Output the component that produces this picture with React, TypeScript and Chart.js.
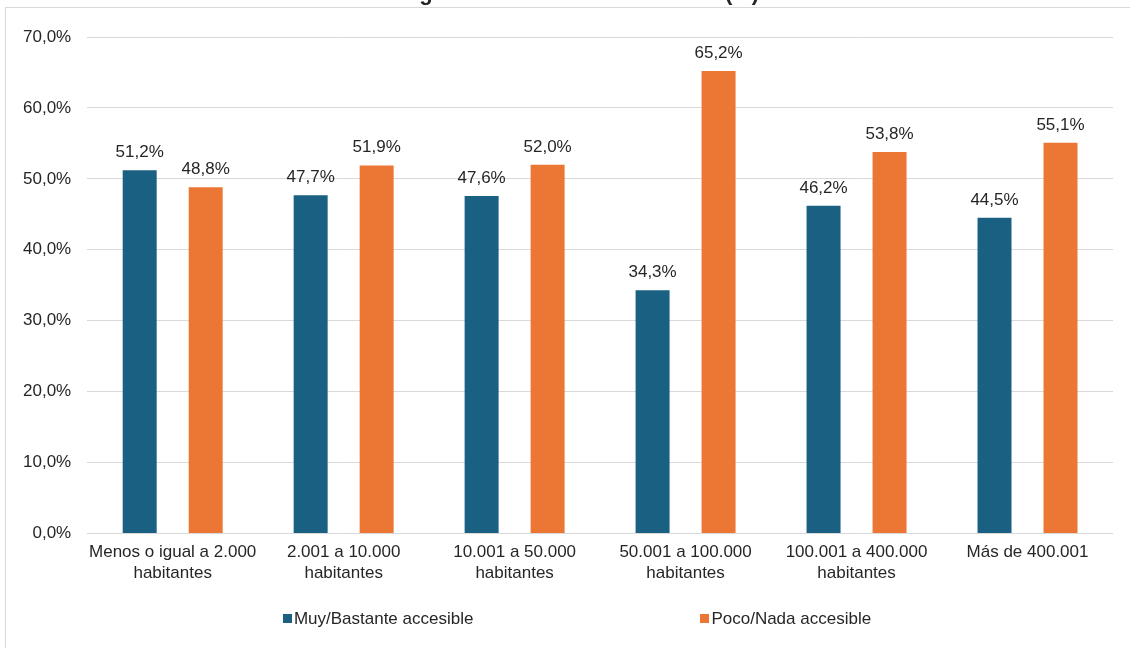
import React, { useEffect, useRef } from "react";
import { Chart, registerables } from "chart.js";

Chart.register(...registerables);

const categories: string[][] = [
  ["Menos o igual a 2.000", "habitantes"],
  ["2.001 a 10.000", "habitantes"],
  ["10.001 a 50.000", "habitantes"],
  ["50.001 a 100.000", "habitantes"],
  ["100.001 a 400.000", "habitantes"],
  ["Más de 400.001"],
];
const seriesNames = ["Muy/Bastante accesible", "Poco/Nada accesible"];
const muyBastante = [51.2, 47.7, 47.6, 34.3, 46.2, 44.5];
const pocoNada = [48.8, 51.9, 52.0, 65.2, 53.8, 55.1];
const seriesColors = ["#1A6082", "#EC7634"];
const yTicks = [0, 10, 20, 30, 40, 50, 60, 70];
const titleText = "según el número de habitantes (%)";

const FONT = '"Liberation Sans", Arial, sans-serif';
const TEXT_COLOR = "#262626";

const fmt = (v: number) => v.toFixed(1).replace(".", ",") + "%";

const dataLabels = {
  id: "dataLabels",
  afterDatasetsDraw(chart: any) {
    const ctx = chart.ctx;
    ctx.save();
    ctx.font = `17px ${FONT}`;
    ctx.fillStyle = TEXT_COLOR;
    ctx.textAlign = "center";
    ctx.textBaseline = "alphabetic";
    chart.data.datasets.forEach((ds: any, di: number) => {
      const meta = chart.getDatasetMeta(di);
      meta.data.forEach((bar: any, i: number) => {
        ctx.fillText(fmt(ds.data[i]), bar.x, bar.y - 13);
      });
    });
    ctx.restore();
  },
};

const titleAndLegend = {
  id: "titleAndLegend",
  afterDraw(chart: any) {
    const ctx = chart.ctx;
    ctx.save();
    // title (clipped at the top, only the last line's descenders show)
    ctx.font = `bold 22px ${FONT}`;
    ctx.fillStyle = TEXT_COLOR;
    ctx.textAlign = "center";
    ctx.textBaseline = "alphabetic";
    ctx.fillText(titleText, 577, 0);

    // legend
    ctx.font = `17px ${FONT}`;
    const box = 9;
    const gapText = 2;
    const gapItems = 227;
    const items = chart.data.datasets.map((ds: any) => ({
      label: ds.label,
      color: ds.backgroundColor,
      w: box + gapText + ctx.measureText(ds.label).width,
    }));
    const total = items.reduce((s: number, it: any) => s + it.w, 0) + gapItems * (items.length - 1);
    let x = 577 - total / 2;
    const yMid = 618.5;
    ctx.textAlign = "left";
    ctx.textBaseline = "middle";
    items.forEach((it: any) => {
      ctx.fillStyle = it.color;
      ctx.fillRect(Math.round(x), Math.round(yMid - box / 2), box, box);
      ctx.fillStyle = TEXT_COLOR;
      ctx.fillText(it.label, x + box + gapText, yMid + 1);
      x += it.w + gapItems;
    });
    ctx.restore();
  },
};

export default function App() {
  const ref = useRef<HTMLCanvasElement | null>(null);

  useEffect(() => {
    if (!ref.current) return;
    const chart = new Chart(ref.current, {
      type: "bar",
      data: {
        labels: categories,
        datasets: [
          {
            label: seriesNames[0],
            data: muyBastante,
            backgroundColor: seriesColors[0],
            categoryPercentage: 0.772,
            barPercentage: 0.515,
          },
          {
            label: seriesNames[1],
            data: pocoNada,
            backgroundColor: seriesColors[1],
            categoryPercentage: 0.772,
            barPercentage: 0.515,
          },
        ],
      },
      options: {
        responsive: false,
        animation: false,
        layout: { padding: { left: 7, top: 37, right: 17, bottom: 56 } },
        plugins: {
          legend: { display: false },
          title: { display: false },
          tooltip: { enabled: false },
        },
        scales: {
          x: {
            grid: { display: false, drawTicks: false },
            border: { display: false },
            ticks: {
              font: { family: FONT, size: 17, lineHeight: 1.25 },
              color: TEXT_COLOR,
              padding: 8,
              maxRotation: 0,
              autoSkip: false,
            },
          },
          y: {
            min: 0,
            max: 70,
            afterBuildTicks: (axis: any) => {
              axis.ticks = yTicks.map((v) => ({ value: v }));
            },
            grid: { color: "#d9d9d9", lineWidth: 1, drawTicks: false },
            border: { display: false },
            ticks: {
              font: { family: FONT, size: 17 },
              color: TEXT_COLOR,
              padding: 16,
              callback: (v: any) => fmt(Number(v)),
            },
          },
        },
      },
      plugins: [dataLabels, titleAndLegend],
    });
    return () => chart.destroy();
  }, []);

  return (
    <div
      style={{
        position: "fixed",
        left: 0,
        top: 0,
        width: 1130,
        height: 648,
        overflow: "hidden",
        background: "#ffffff",
      }}
    >
      <div
        style={{
          position: "absolute",
          left: 5,
          top: 7,
          width: 1200,
          height: 700,
          border: "1px solid #d9d9d9",
          boxSizing: "border-box",
        }}
      />
      <canvas
        ref={ref}
        width={1130}
        height={648}
        style={{ position: "absolute", left: 0, top: 0, width: 1130, height: 648 }}
      />
    </div>
  );
}
